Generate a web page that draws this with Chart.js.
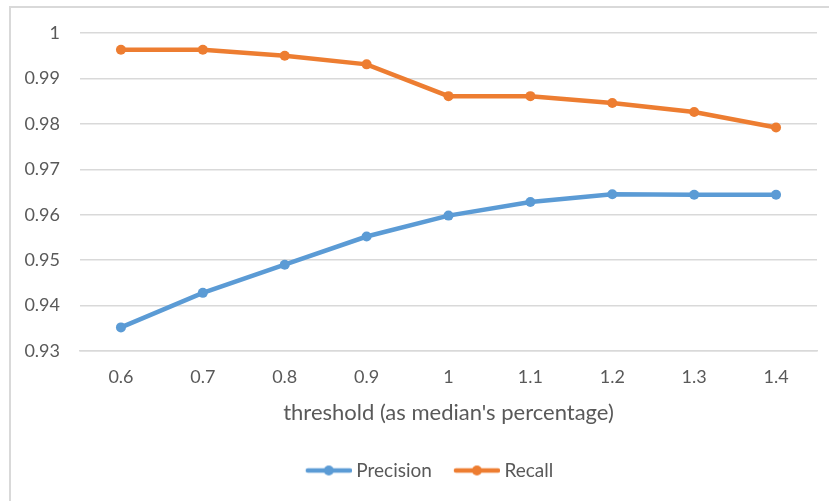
<!DOCTYPE html>
<html>
<head>
<meta charset="utf-8">
<script src="https://cdn.jsdelivr.net/npm/chart.js@4"></script>
<style>
  html, body { margin: 0; padding: 0; background: #fff; }
  #wrap { width: 829px; height: 501px; position: relative; }
</style>
</head>
<body>
<div id="wrap"><canvas id="c" width="829" height="501"></canvas></div>
<script>
// Threshold values (as a fraction of the median)
const thresholds = ['0.6', '0.7', '0.8', '0.9', '1', '1.1', '1.2', '1.3', '1.4'];
const precision = [0.9352, 0.9428, 0.9490, 0.9552, 0.9598, 0.9628, 0.9645, 0.9644, 0.9644];
const recall    = [0.9963, 0.9963, 0.9950, 0.9931, 0.9861, 0.9861, 0.9846, 0.9826, 0.9792];
const yTicks = [0.93, 0.94, 0.95, 0.96, 0.97, 0.98, 0.99, 1];

const BLUE = '#5B9BD5';
const ORANGE = '#ED7D31';
const TEXT = '#595959';
const GRID = '#D9D9D9';
const FONT = 'Lato, "Liberation Sans", sans-serif';

// Legend swatch: a short line with a dot in the middle (left margin left transparent)
function swatch(color) {
  const cv = document.createElement('canvas');
  cv.width = 59; cv.height = 12;
  const g = cv.getContext('2d');
  g.strokeStyle = color; g.lineWidth = 4.5; g.lineCap = 'round';
  g.beginPath(); g.moveTo(15, 6); g.lineTo(57, 6); g.stroke();
  g.fillStyle = color;
  g.beginPath(); g.arc(36, 6, 5, 0, Math.PI * 2); g.fill();
  return cv;
}

// Frame: light border on the left and top edges
const frame = {
  id: 'frame',
  beforeDraw(chart) {
    const ctx = chart.ctx;
    ctx.save();
    ctx.fillStyle = '#fff';
    ctx.fillRect(0, 0, chart.width, chart.height);
    ctx.strokeStyle = '#D9D9D9';
    ctx.lineWidth = 2;
    ctx.beginPath();
    ctx.moveTo(10, chart.height);
    ctx.lineTo(10, 7);
    ctx.lineTo(chart.width, 7);
    ctx.stroke();
    ctx.restore();
  }
};

// Nudge the legend so it sits under the middle of the plot area
const legendShift = {
  id: 'legendShift',
  afterLayout(chart) {
    const lg = chart.legend;
    if (lg) { lg.left += 17; lg.right += 17; }
  }
};

new Chart(document.getElementById('c'), {
  type: 'line',
  data: {
    labels: thresholds,
    datasets: [
      { label: 'Precision', data: precision, borderColor: BLUE, backgroundColor: BLUE,
        borderWidth: 4.5, pointRadius: 5, pointHoverRadius: 5, pointBackgroundColor: BLUE,
        pointBorderWidth: 0, tension: 0 },
      { label: 'Recall', data: recall, borderColor: ORANGE, backgroundColor: ORANGE,
        borderWidth: 4.5, pointRadius: 5, pointHoverRadius: 5, pointBackgroundColor: ORANGE,
        pointBorderWidth: 0, tension: 0 }
    ]
  },
  options: {
    responsive: false,
    animation: false,
    devicePixelRatio: 1,
    layout: { padding: { left: 0, top: 33, right: 12, bottom: 11 } },
    plugins: {
      tooltip: { enabled: false },
      legend: {
        position: 'bottom',
        labels: {
          color: TEXT,
          font: { family: FONT, size: 19 },
          usePointStyle: true,
          pointStyleWidth: 49,
          padding: 14,
          generateLabels(chart) {
            return chart.data.datasets.map((ds, i) => ({
              text: ds.label,
              pointStyle: swatch(ds.borderColor),
              fillStyle: ds.borderColor,
              strokeStyle: ds.borderColor,
              lineWidth: 0,
              fontColor: TEXT,
              hidden: false,
              datasetIndex: i
            }));
          }
        }
      }
    },
    scales: {
      x: {
        offset: true,
        grid: { display: false, drawTicks: false },
        border: { display: true, color: GRID, width: 1.5 },
        ticks: { color: TEXT, font: { family: FONT, size: 18 }, padding: 15, maxRotation: 0 },
        title: { display: true, text: "threshold (as median's percentage)", color: TEXT,
                 font: { family: FONT, size: 22 }, padding: { top: 10, bottom: 21 } },
        afterFit(scale) { scale.height = 96; }
      },
      y: {
        min: 0.93, max: 1,
        grid: { color: GRID, lineWidth: 1.5, drawTicks: false },
        border: { display: false },
        afterBuildTicks(scale) { scale.ticks = yTicks.map(v => ({ value: v })); },
        ticks: {
          color: TEXT, font: { family: FONT, size: 18 }, padding: 20,
          callback: v => String(Math.round(v * 100) / 100)
        },
        afterFit(scale) { scale.width = 80; }
      }
    }
  },
  plugins: [frame, legendShift]
});
</script>
</body>
</html>
